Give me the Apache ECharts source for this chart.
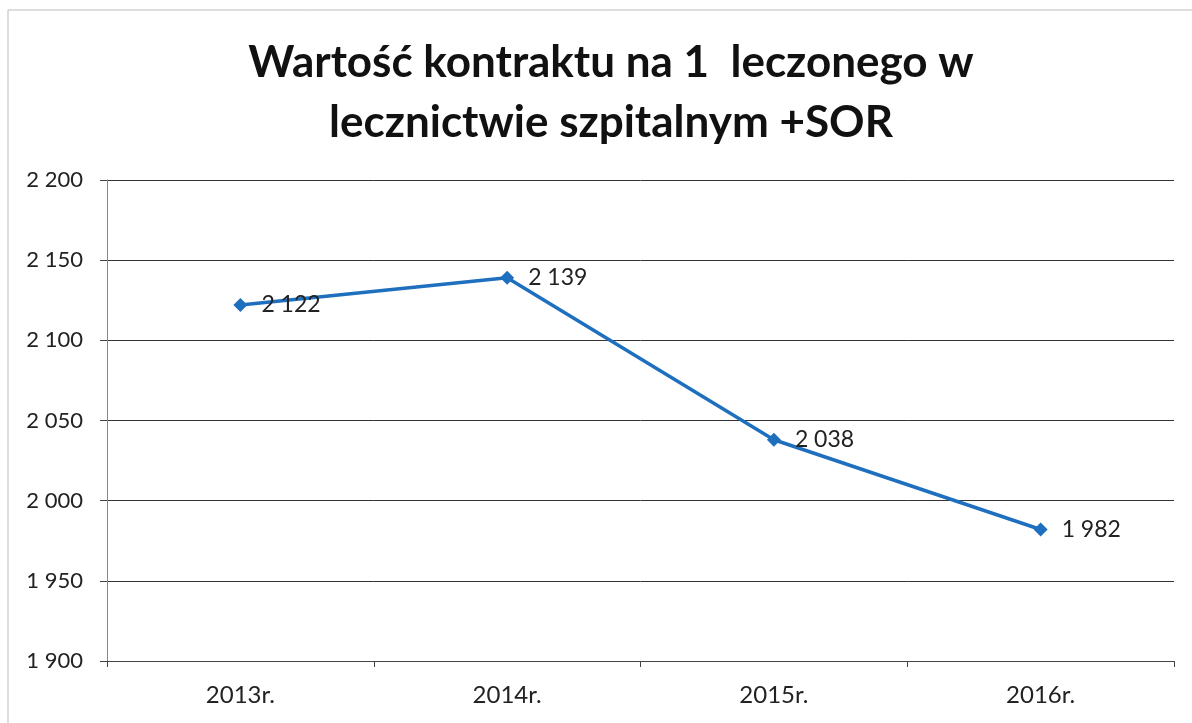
<!DOCTYPE html>
<html><head><meta charset="utf-8">
<script src="https://cdn.jsdelivr.net/npm/echarts@6/dist/echarts.min.js"></script>
<style>html,body{margin:0;padding:0;background:#fff}#c{width:1192px;height:723px}</style>
</head><body><div id="c"></div>
<script>
const categories = ['2013r.', '2014r.', '2015r.', '2016r.'];
const values = [2122, 2139, 2038, 1982];
const titleText = 'Wartość kontraktu na 1  leczonego w\nlecznictwie szpitalnym +SOR';
const yMin = 1900, yMax = 2200, yStep = 50;

function fmt(v){ return String(v).replace(/\B(?=(\d{3})+(?!\d))/g, ' '); }

const chart = echarts.init(document.getElementById('c'));
chart.setOption({
  backgroundColor: '#fff',
  animation: false,
  title: {
    text: titleText, left: 606, textAlign: 'center', top: 28,
    textStyle: { fontFamily: 'Lato', fontWeight: 'bold', fontSize: 44, lineHeight: 60, color: '#111' }
  },
  graphic: [{ type: 'rect', shape: { x: 8, y: 10, width: 1200, height: 730 }, style: { fill: 'none', stroke: '#bbb', lineWidth: 1 } }],
  grid: { left: 107, right: 18, top: 180, bottom: 62 },
  xAxis: {
    type: 'category', data: categories, boundaryGap: true,
    axisLine: { lineStyle: { color: '#444', width: 1 } },
    axisTick: { show: true, length: 6, lineStyle: { color: '#444' } },
    axisLabel: { fontFamily: 'Lato', fontSize: 24, color: '#222', margin: 22 }
  },
  yAxis: {
    type: 'value', min: yMin, max: yMax, interval: yStep,
    axisLine: { show: true, lineStyle: { color: '#888', width: 1 } },
    axisTick: { show: true, length: 7, lineStyle: { color: '#444' } },
    splitLine: { lineStyle: { color: '#333', width: 1 } },
    axisLabel: { fontFamily: 'Lato', fontSize: 22, color: '#222', margin: 24, formatter: fmt }
  },
  series: [{
    type: 'line', data: values,
    lineStyle: { color: '#1f6fbf', width: 3.5 },
    itemStyle: { color: '#1f6fbf' },
    symbol: 'diamond', symbolSize: 14,
    label: { show: true, position: 'right', distance: 14, fontFamily: 'Lato', fontSize: 23, color: '#222', formatter: p => fmt(p.value) }
  }]
});
</script></body></html>
